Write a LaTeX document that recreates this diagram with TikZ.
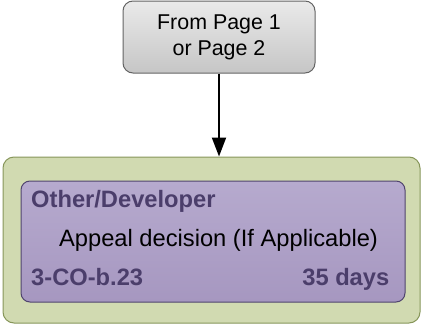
\documentclass[tikz,border=0pt]{standalone}
\usepackage{fontspec}
\setmainfont{Liberation Sans}
\usetikzlibrary{arrows.meta}
\definecolor{greenfill}{RGB}{209,218,177}
\definecolor{greenline}{RGB}{135,150,90}
\definecolor{purptop}{RGB}{182,170,206}
\definecolor{purpbot}{RGB}{166,151,192}
\definecolor{purpline}{RGB}{80,68,110}
\definecolor{purptext}{RGB}{75,62,107}
\definecolor{greytop}{RGB}{234,234,234}
\definecolor{greybot}{RGB}{198,198,198}
\definecolor{greyline}{RGB}{100,100,100}
\begin{document}
\begin{tikzpicture}[x=1pt,y=-1pt,
  startbox/.style={draw=greyline, line width=1pt, rounded corners=10pt, top color=greytop, bottom color=greybot, minimum width=192pt, minimum height=72pt, inner sep=0pt, align=center, font=\fontsize{21.4}{26}\selectfont},
  lanebox/.style={draw=greenline, line width=1pt, fill=greenfill, rounded corners=11pt, minimum width=417pt, minimum height=166pt, inner sep=0pt},
  taskbox/.style={draw=purpline, line width=1pt, rounded corners=9pt, top color=purptop, bottom color=purpbot, minimum width=384pt, minimum height=121pt, inner sep=0pt},
  tagtext/.style={font=\fontsize{23.7}{28}\selectfont\bfseries, text=purptext, inner sep=0pt},
  maintext/.style={font=\fontsize{23.7}{28}\selectfont, text=black, inner sep=0pt},
  flow/.style={line width=2pt, -{Triangle[length=19pt,width=14pt]}}
]
\useasboundingbox (0,0) rectangle (422,324);
\node[lanebox] (lane) at (211.5,240) {};
\node[taskbox] (task) at (213,241.5) {};
\node[tagtext, anchor=base west] (role) at (31,207) {Other/Developer};
\node[maintext, anchor=base] (title) at (218.5,246) {Appeal decision (If Applicable)};
\node[tagtext, anchor=base west] (code) at (31,285) {3-CO-b.23};
\node[tagtext, anchor=base east] (days) at (389.5,285) {35 days};
\node[startbox] (start) at (219,37) {From Page 1\\or Page 2};
\draw[flow] (start.south) -- (start.south |- lane.north);
\end{tikzpicture}
\end{document}
